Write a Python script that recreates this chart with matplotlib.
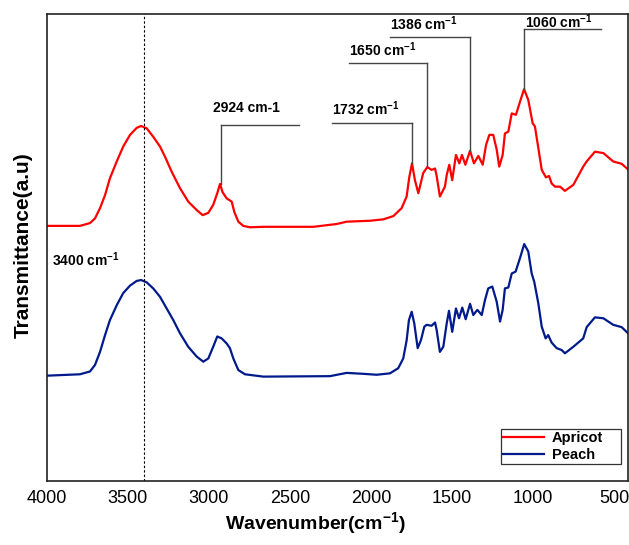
import matplotlib
matplotlib.use('Agg')
import matplotlib.pyplot as plt

# ---------------------------------------------------------------
# Data (transmittance in a.u.)
# ---------------------------------------------------------------

apricot_wn = [4000, 3795, 3733, 3702, 3671, 3640, 3610, 3568, 3528, 3486,
              3445, 3418, 3383, 3343, 3301, 3270, 3229, 3178, 3127, 3075,
              3038, 3003, 2973, 2948, 2931, 2915, 2890, 2859, 2843, 2818,
              2788, 2746, 2664, 2356, 2212, 2150, 2006, 1924, 1862, 1811,
              1780, 1764, 1747, 1729, 1708, 1678, 1653, 1626, 1605, 1595,
              1575, 1544, 1533, 1517, 1499, 1476, 1455, 1439, 1418, 1389,
              1365, 1338, 1311, 1290, 1270, 1246, 1225, 1209, 1188, 1174,
              1153, 1132, 1106, 1081, 1056, 1030, 1003, 989, 968, 947,
              921, 902, 886, 865, 834, 804, 752, 691, 670, 619,
              567, 506, 454, 415]
apricot_t = [54.6, 54.6, 55.2, 56.2, 58.4, 61.2, 64.8, 68.4, 71.6, 74.1,
             75.6, 76.0, 75.5, 73.7, 71.6, 69.4, 66.2, 62.7, 59.8, 58.0,
             56.9, 57.4, 59.1, 61.6, 63.6, 61.8, 60.5, 59.8, 57.6, 55.5,
             54.6, 54.3, 54.4, 54.4, 55.0, 55.5, 55.7, 56.0, 56.7, 58.4,
             60.9, 65.0, 68.0, 64.4, 61.6, 65.9, 67.2, 66.6, 66.9, 65.3,
             60.9, 63.0, 65.5, 67.7, 64.4, 69.8, 68.0, 69.8, 67.7, 70.7,
             68.0, 69.6, 67.7, 72.0, 74.1, 74.1, 71.0, 67.3, 69.8, 74.4,
             74.8, 78.7, 78.4, 81.2, 83.9, 81.6, 76.6, 75.9, 71.3, 66.6,
             65.0, 65.3, 63.7, 63.0, 63.0, 62.1, 63.4, 67.3, 68.4, 70.5,
             70.2, 68.4, 67.9, 66.7]

peach_wn = [4000, 3795, 3733, 3702, 3671, 3640, 3610, 3568, 3528, 3486,
            3445, 3418, 3383, 3343, 3301, 3260, 3219, 3178, 3127, 3075,
            3034, 3003, 2973, 2948, 2921, 2890, 2870, 2849, 2818, 2777,
            2664, 2253, 2150, 2048, 1965, 1883, 1832, 1801, 1780, 1766,
            1749, 1733, 1712, 1692, 1671, 1657, 1626, 1605, 1595, 1575,
            1554, 1533, 1519, 1499, 1476, 1457, 1437, 1416, 1389, 1369,
            1344, 1317, 1297, 1277, 1252, 1225, 1204, 1188, 1174, 1153,
            1132, 1108, 1081, 1055, 1030, 1009, 993, 968, 947, 923,
            907, 886, 855, 824, 804, 752, 691, 670, 619, 567,
            506, 454, 415]
peach_t = [22.5, 22.8, 23.4, 24.8, 27.6, 31.2, 34.4, 37.6, 40.2, 41.8,
           42.8, 43.0, 42.5, 41.2, 39.4, 36.9, 34.4, 31.6, 28.7, 26.6,
           25.5, 26.2, 28.7, 30.9, 30.5, 29.4, 28.4, 26.2, 23.7, 22.8,
           22.3, 22.4, 23.1, 22.9, 22.7, 23.0, 24.1, 26.2, 30.1, 34.4,
           36.2, 33.7, 28.4, 30.1, 33.0, 33.4, 33.2, 33.9, 32.3, 27.6,
           28.7, 33.7, 36.4, 31.9, 36.9, 34.8, 37.1, 34.6, 37.9, 35.5,
           36.6, 35.5, 38.7, 41.2, 41.6, 38.4, 34.1, 36.6, 41.2, 41.4,
           44.4, 44.8, 47.7, 50.7, 49.1, 44.4, 42.6, 38.0, 33.0, 30.5,
           31.2, 29.6, 28.4, 28.0, 27.3, 28.7, 30.5, 32.9, 35.0, 34.8,
           33.4, 32.9, 31.6]

series_names = ['Apricot', 'Peach']
xtick_values = [4000, 3500, 3000, 2500, 2000, 1500, 1000, 500]

# ---------------------------------------------------------------
# Style
# ---------------------------------------------------------------

plt.rcParams['font.family'] = ['Liberation Sans', 'DejaVu Sans']
plt.rcParams['mathtext.fontset'] = 'custom'
plt.rcParams['mathtext.rm'] = 'Liberation Sans:bold'
plt.rcParams['mathtext.bf'] = 'Liberation Sans:bold'
plt.rcParams['mathtext.default'] = 'bf'

RED = '#ff0000'
NAVY = '#001a8c'
ANN = '#454545'

fig = plt.figure(figsize=(6.29, 5.45), dpi=100, facecolor='w')
ax = fig.add_axes([0.0742, 0.118, 0.9242, 0.8563])

ax.plot(apricot_wn, apricot_t, color=RED, lw=1.6, label=series_names[0],
        solid_joinstyle='round')
ax.plot(peach_wn, peach_t, color=NAVY, lw=1.6, label=series_names[1],
        solid_joinstyle='round')

# dashed guide at the O-H band
ax.axvline(3400, color='k', lw=0.8, ls=(0, (2.2, 1.8)))

# ---------------------------------------------------------------
# Peak annotations: (label, label_x, label_y, line_x, peak_y, bar_y, bar_end)
# ---------------------------------------------------------------

notes = [
    ('2924 cm-1',        2975, 78.9, 2924, 63.6, 76.2, 2444),
    ('1732 cm$^{-1}$',   2240, 78.4, 1747, 68.0, 76.6, 2240),
    ('1650 cm$^{-1}$',   2136, 91.0, 1653, 67.2, 89.6, 2136),
    ('1386 cm$^{-1}$',   1883, 96.6, 1389, 70.7, 95.1, 1883),
    ('1060 cm$^{-1}$',   1050, 97.1, 1056, 83.9, 96.7, 581),
]
for lab, lx, ly, px, py, by, bx in notes:
    ax.plot([px, px], [py, by], color=ANN, lw=1.0)
    ax.plot([px, bx], [by, by], color=ANN, lw=1.0)
    ax.text(lx, ly, lab, fontsize=10, fontweight='bold', ha='left',
            va='baseline')

ax.text(3969, 45.9, '3400 cm$^{-1}$', fontsize=10, fontweight='bold',
        ha='left', va='baseline')

# ---------------------------------------------------------------
# Axes
# ---------------------------------------------------------------

ax.set_xlim(4000, 415)
ax.set_ylim(0, 100)
ax.set_xticks(xtick_values)
ax.set_xticklabels([str(v) for v in xtick_values])
ax.set_yticks([])
ax.tick_params(axis='x', length=0, pad=7, labelsize=13)

for s in ax.spines.values():
    s.set_linewidth(1.2)
    s.set_color('#222222')

ax.set_xlabel('Wavenumber(cm$^{-1}$)', fontsize=14, fontweight='bold')
ax.xaxis.set_label_coords(0.4616, -0.062)
ax.set_ylabel('Transmittance(a.u)', fontsize=15, fontweight='bold')
ax.yaxis.set_label_coords(-0.024, 0.504)

leg = ax.legend(loc='lower left', bbox_to_anchor=(0.781, 0.0358, 0.2064, 0.0857),
                mode='expand', borderaxespad=0, fancybox=False, frameon=True,
                prop={'weight': 'bold', 'size': 10.5}, handlelength=2.85,
                handletextpad=0.5, labelspacing=0.2, borderpad=0.15)
leg.get_frame().set_edgecolor('k')
leg.get_frame().set_linewidth(0.9)

fig.savefig('out.png', dpi=100, facecolor='w')
plt.close(fig)
